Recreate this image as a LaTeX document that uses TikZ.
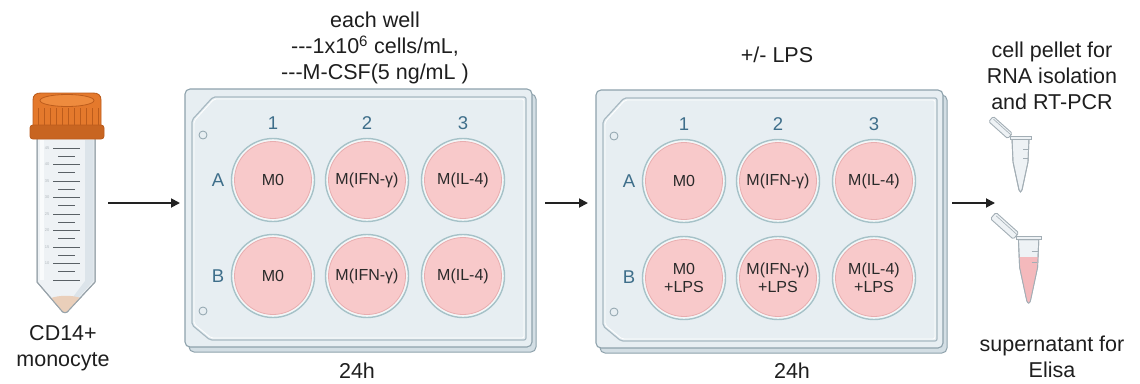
\documentclass[tikz,border=0pt]{standalone}
\usepackage{fontspec}
\setmainfont{Liberation Sans}
\usetikzlibrary{arrows.meta}

\definecolor{inkblack}{HTML}{1E1E1E}
\definecolor{arrowgrey}{HTML}{222222}
\definecolor{plateedge}{HTML}{8EA2AC}
\definecolor{platefill}{HTML}{E7EEF2}
\definecolor{plateback}{HTML}{D3DEE4}
\definecolor{rimline}{HTML}{A7B9C2}
\definecolor{wellring}{HTML}{A6C2C8}
\definecolor{wellbase}{HTML}{F3F7F8}
\definecolor{wellpink}{HTML}{F8C9CA}
\definecolor{welledge}{HTML}{E8ADAF}
\definecolor{welltext}{HTML}{2A2A2A}
\definecolor{labelblue}{HTML}{3E6E8A}
\definecolor{capor}{HTML}{E4792C}
\definecolor{caplight}{HTML}{EE8B3E}
\definecolor{capdark}{HTML}{BC5C1C}
\definecolor{tubefill}{HTML}{EEF2F5}
\definecolor{tubeshade}{HTML}{DCE4EA}
\definecolor{tubeedge}{HTML}{98A3AA}
\definecolor{gradmark}{HTML}{5A6166}
\definecolor{gradnum}{HTML}{B0B7BC}
\definecolor{sediment}{HTML}{EACFBA}
\definecolor{microedge}{HTML}{A3AEB5}
\definecolor{micropink}{HTML}{F4B9BC}

% plate outline in local coordinates (origin = top-left corner of the front plate)
\newcommand{\platebody}{%
  \filldraw[fill=plateback, draw=plateedge, line width=1pt, rounded corners=5pt]
    (4,5) rectangle (351,263);
  \filldraw[fill=platefill, draw=plateedge, line width=1.1pt, rounded corners=5pt]
    (0,0) rectangle (347,258);
  \draw[rimline, line width=1.2pt, rounded corners=2pt]
    (28,8) -- (341,8) -- (341,251) -- (25,251) -- (7,236) -- (7,31) -- cycle;
  \draw[white, line width=0.8pt, rounded corners=2pt]
    (29,10) -- (339,10) -- (339,249) -- (26,249) -- (9,235) -- (9,32) -- cycle;
  \filldraw[fill=platefill, draw=plateedge, line width=0.8pt] (18,46) circle[radius=4pt];
  \filldraw[fill=platefill, draw=plateedge, line width=0.8pt] (18,222) circle[radius=4pt];
  \node[gridlabel] (c1) at (88,34) {1};
  \node[gridlabel] (c2) at (182,34) {2};
  \node[gridlabel] (c3) at (278,34) {3};
  \node[gridlabel] (ra) at (33,91) {A};
  \node[gridlabel] (rb) at (33,187) {B};
}

% small conical sample tube; origin = left end of the rim
\newcommand{\microbody}{(2,3) -- (3,26) -- (9,54) .. controls (9.7,56.5) and (11.3,56.5) .. (12,54) -- (18,26) -- (19,3) -- cycle}
\newcommand{\microtube}[1]{%
  \filldraw[fill=tubefill, draw=microedge, line width=0.9pt, rounded corners=1.5pt]
    (2.3,-2.6) -- (-16.7,-19.6) -- (-21.3,-14.4) -- (-2.3,2.6) -- cycle;
  \draw[microedge, line width=0.6pt] (0.8,-1.2) -- (-16.5,-16.8);
  \filldraw[fill=tubefill, draw=microedge, line width=0.9pt] \microbody;
  #1
  \draw[microedge, line width=0.9pt] \microbody;
  \filldraw[fill=tubefill, draw=microedge, line width=0.9pt] (0,0) rectangle (21,3);
  \draw[microedge, line width=0.6pt] (13,13) -- (18,13) (13,22) -- (17.5,22);
}

\begin{document}
\begin{tikzpicture}[x=1pt,y=-1pt,
  flow/.style={line width=1.8pt, draw=arrowgrey, -{Triangle[length=9pt,width=9pt]}},
  bigtext/.style={font=\fontsize{21.5}{26}\selectfont, text=inkblack, align=center, inner sep=0pt},
  gridlabel/.style={font=\fontsize{18.5}{20}\selectfont, text=labelblue, inner sep=0pt},
  well/.style={circle, minimum size=83pt, inner sep=0pt, draw=wellring, line width=1.4pt,
    fill=wellbase, align=center, text=welltext, font=\fontsize{16}{18.5}\selectfont,
    path picture={
      \fill[wellpink] (path picture bounding box.center) circle[radius=38.5pt];
      \draw[welledge, line width=0.8pt] (path picture bounding box.center) circle[radius=38.5pt];
    }},
  region/.style={inner sep=0pt, draw=none, fill=none}]

\useasboundingbox (0,0) rectangle (1140,383);

% ---------- 50 mL tube with monocytes ----------
\node[region, minimum width=74pt, minimum height=222pt] (tube) at (66,203) {};
\filldraw[fill=tubefill, draw=tubeedge, line width=1pt]
  (37,134) -- (37,282) -- (61,310) .. controls (63,313.5) and (67,313.5) .. (69,310)
  -- (95,282) -- (95,134) -- cycle;
\fill[tubeshade] (85,140) -- (93.5,140) -- (93.5,281) -- (69,308) -- (67,305) -- (85,281) -- cycle;
\fill[white, opacity=0.7] (40,140) rectangle (44,280);
\fill[sediment] (51,298) .. controls (60,295) and (72,295) .. (80.5,298)
  -- (69,310) .. controls (67,313) and (63,313) .. (61,310) -- cycle;
\draw[tubeedge, line width=1pt]
  (37,134) -- (37,282) -- (61,310) .. controls (63,313.5) and (67,313.5) .. (69,310)
  -- (95,282) -- (95,134);
\foreach \k in {0,...,8}{
  \draw[gradmark, line width=1pt] (53,148+16.5*\k) -- (80,148+16.5*\k);
}
\foreach \k in {0,...,7}{
  \draw[gradmark, line width=1pt] (58,156.25+16.5*\k) -- (75,156.25+16.5*\k);
}
\foreach \v [count=\i from 0] in {45,40,35,30,25,20,15,10}{
  \node[inner sep=0pt, text=gradnum, font=\fontsize{4}{4}\selectfont] at (47,148+16.5*\i) {\v};
}
% screw cap
\filldraw[fill=capor, draw=capdark, line width=0.9pt]
  (33,127) -- (33,100) .. controls (33,95) and (36,93) .. (41,93) -- (93,93)
  .. controls (98,93) and (101,95) .. (101,100) -- (101,127) -- cycle;
\filldraw[fill=caplight, draw=capdark, line width=0.8pt] (67,100.5) ellipse[x radius=27pt, y radius=6pt];
\foreach \x in {38,44,...,98}{
  \draw[capdark, line width=0.7pt] (\x,108) -- (\x,125);
}
\filldraw[fill=capdark!70!capor, draw=capdark, line width=0.9pt, rounded corners=3pt]
  (30,125) rectangle (104,139);
\node[bigtext] (cdlabel) at (63,348) {CD14+\\monocyte};

% ---------- first plate: polarisation ----------
\node[region, anchor=north west, minimum width=351pt, minimum height=263pt] (plate1) at (185,89) {};
\begin{scope}[shift={(185,89)}]
  \platebody
  \node[well] (p1a1) at (88,91) {M0};
  \node[well] (p1a2) at (182,91) {M(IFN-γ)};
  \node[well] (p1a3) at (278,91) {M(IL-4)};
  \node[well] (p1b1) at (88,187) {M0};
  \node[well] (p1b2) at (182,187) {M(IFN-γ)};
  \node[well] (p1b3) at (278,187) {M(IL-4)};
\end{scope}
\node[bigtext] (cond) at (375,48) {each well\\-{}-{}-1x10\textsuperscript{6} cells/mL,\\-{}-{}-M-CSF(5 ng/mL )};
\node[bigtext] (time1) at (357,371) {24h};

% ---------- second plate: stimulation ----------
\node[region, anchor=north west, minimum width=351pt, minimum height=263pt] (plate2) at (596,90) {};
\begin{scope}[shift={(596,90)}]
  \platebody
  \node[well] (p2a1) at (88,91) {M0};
  \node[well] (p2a2) at (182,91) {M(IFN-γ)};
  \node[well] (p2a3) at (278,91) {M(IL-4)};
  \node[well] (p2b1) at (88,188) {M0\\+LPS};
  \node[well] (p2b2) at (182,188) {M(IFN-γ)\\+LPS};
  \node[well] (p2b3) at (278,188) {M(IL-4)\\+LPS};
\end{scope}
\node[bigtext] (lps) at (777,55) {+/- LPS};
\node[bigtext] (time2) at (792,371) {24h};

% ---------- collected samples ----------
\begin{scope}[shift={(1010,136)}]
  \microtube{}
\end{scope}
\begin{scope}[shift={(1016,236)}, scale=1.2]
  \microtube{\begin{scope}\clip \microbody; \fill[micropink] (0,17.5) rectangle (21,60);\end{scope}}
\end{scope}
\coordinate (collect) at (995,203);
\node[bigtext] (pellet) at (1052,76) {cell pellet for\\RNA isolation\\and RT-PCR};
\node[bigtext] (super) at (1052,357) {supernatant for\\Elisa};

% ---------- workflow arrows ----------
\draw[flow, shorten <=5pt, shorten >=5pt] (tube.east) -- (tube.east -| plate1.west);
\draw[flow, shorten <=9pt, shorten >=8pt] (plate1.east |- tube.east) -- (tube.east -| plate2.west);
\draw[flow, shorten <=5pt] (plate2.east |- tube.east) -- (collect);

\end{tikzpicture}
\end{document}
